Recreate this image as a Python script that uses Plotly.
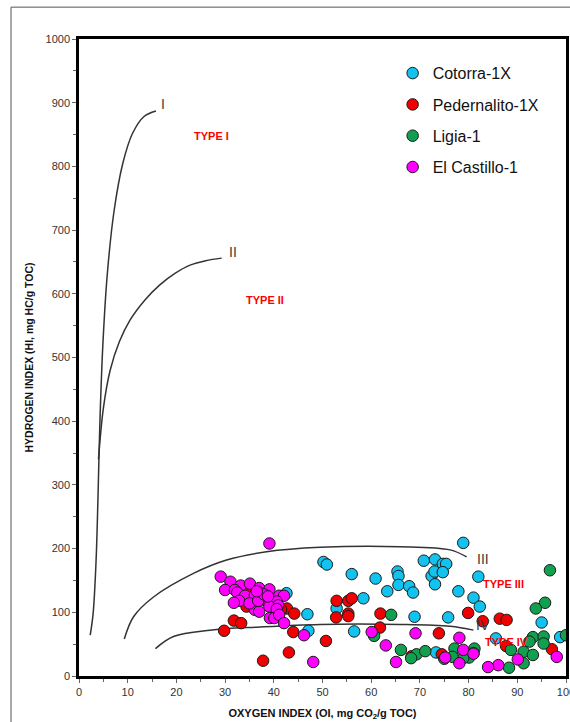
import plotly.graph_objects as go

# ---------------- data ----------------
cotorra_oi = [42.6, 46.9, 47.1, 50.2, 50.9, 56.0, 60.9, 65.4, 65.6, 65.6, 63.3, 67.8, 68.6, 70.8, 73.1,
              72.4, 73.0, 73.1, 58.4, 52.9, 68.9, 56.5, 73.3, 78.9, 74.7, 75.4, 74.7, 82.0, 77.9, 81.0,
              82.3, 75.8, 95.0, 85.6, 98.8]
cotorra_hi = [130, 97, 71, 179, 175, 160, 153, 164, 157, 143, 133, 141, 131, 181, 183,
              157, 164, 144, 122, 106, 93, 70, 37, 209, 176, 176, 163, 156, 133, 123,
              109, 92, 84, 59, 61]

pedern_oi = [35.0, 34.4, 31.8, 33.3, 29.8, 42.7, 44.2, 44.0, 37.8, 43.1, 41.5, 52.9, 55.3, 56.0, 52.8,
             55.3, 55.3, 61.9, 61.8, 50.7, 73.9, 68.3, 79.9, 82.9, 86.4, 87.8, 87.7, 97.1, 74.5]
pedern_hi = [135, 109, 87, 83, 71, 106, 98, 69, 24, 37, 104, 118, 118, 122, 92,
             98, 94, 98, 76, 55, 67, 31, 99, 86, 90, 88, 47, 42, 34]

ligia_oi = [64.1, 60.6, 66.1, 69.3, 68.2, 71.1, 96.7, 95.7, 93.8, 100.0, 93.2, 95.4, 95.4, 92.5, 91.3,
            93.2, 88.7, 91.3, 88.3, 77.1, 81.2, 81.0, 80.1, 78.9, 76.7, 75.0]
ligia_hi = [96, 63, 41, 34, 28, 39, 166, 115, 106, 64, 61, 62, 51, 54, 38,
            33, 41, 20, 13, 43, 43, 36, 29, 28, 30, 27]

castillo_oi = [39.1, 29.1, 31.1, 33.2, 35.1, 37.0, 39.1, 30.0, 32.0, 32.5, 34.1, 36.1, 37.2, 37.0, 37.7,
               41.1, 42.1, 32.9, 31.8, 38.2, 39.1, 40.6, 40.9, 36.1, 37.0, 39.1, 40.6, 39.2, 40.1, 41.1,
               42.1, 46.2, 48.1, 35.0, 36.8, 38.0, 36.5, 38.8, 60.1, 63.0, 69.1, 65.1, 78.1, 78.9, 81.0,
               75.2, 78.1, 90.1, 98.1, 86.1, 84.0]
castillo_hi = [208, 156, 148, 142, 145, 138, 136, 135, 135, 131, 126, 127, 130, 120, 123,
               126, 126, 118, 115, 119, 115, 117, 111, 104, 101, 109, 105, 91, 91, 96,
               83, 64, 22, 114, 118, 128, 133, 125, 69, 48, 67, 22, 60, 41, 35,
               29, 20, 26, 30, 17, 14]

# kerogen type evolution curves
curve_I_oi = [2.3, 2.9, 3.5, 3.9, 4.3, 4.9, 5.8, 7.2, 9.0, 11.0, 13.3, 15.8]
curve_I_hi = [64, 98, 180, 280, 400, 520, 630, 730, 805, 852, 878, 887]
curve_II_oi = [4.0, 5.0, 6.4, 8.3, 10.5, 13.5, 16.6, 19.7, 22.8, 26.0, 29.3]
curve_II_hi = [340, 420, 480, 525, 559, 590, 614, 632, 645, 652, 656]
curve_III_oi = [9.3, 11.2, 15.3, 23.5, 30.3, 38.5, 49.5, 65.9, 76.2, 79.6]
curve_III_hi = [58, 93, 124, 161, 182, 195, 202, 203, 198, 187]
curve_IV_oi = [15.7, 19.4, 26.9, 37.2, 49.5, 65.9, 76.2, 81.0]
curve_IV_hi = [43, 62, 72, 77, 81, 81, 78, 72]

curve_labels = ["I", "II", "III", "IV"]
curve_label_oi = [17.3, 31.6, 82.9, 83.0]
curve_label_hi = [898, 665, 183, 80]

type_labels = ["TYPE I", "TYPE II", "TYPE III", "TYPE IV"]
type_label_oi = [27.2, 38.2, 87.1, 87.7]
type_label_hi = [848, 590, 145, 54]

FONT = "Liberation Sans, Arial, sans-serif"

fig = go.Figure()

for oi, hi in [(curve_I_oi, curve_I_hi), (curve_II_oi, curve_II_hi),
               (curve_III_oi, curve_III_hi), (curve_IV_oi, curve_IV_hi)]:
    fig.add_trace(go.Scatter(x=oi, y=hi, mode="lines",
                             line=dict(color="#333333", width=1.5, shape="spline", smoothing=1.0),
                             showlegend=False, hoverinfo="skip"))

series = [
    ("Cotorra-1X", cotorra_oi, cotorra_hi, "#12C3F0"),
    ("Pedernalito-1X", pedern_oi, pedern_hi, "#F00000"),
    ("Ligia-1", ligia_oi, ligia_hi, "#10A050"),
    ("El Castillo-1", castillo_oi, castillo_hi, "#FF00FF"),
]
for name, oi, hi, col in series:
    fig.add_trace(go.Scatter(x=oi, y=hi, mode="markers", name=name, legendgroup=name,
                             marker=dict(size=11.5, color=col, line=dict(color="#1a1a1a", width=1))))

for t, x, y in zip(curve_labels, curve_label_oi, curve_label_hi):
    fig.add_annotation(x=x, y=y, text=t, showarrow=False, xanchor="center", yanchor="middle",
                       font=dict(family=FONT, size=14, color="#3a3a3a"))
for t, x, y in zip(type_labels, type_label_oi, type_label_hi):
    fig.add_annotation(x=x, y=y, text="<b>" + t + "</b>", showarrow=False, xanchor="center", yanchor="middle",
                       font=dict(family=FONT, size=11, color="#FF0000"))

# outer frame (thin gray)
fig.add_shape(type="line", xref="paper", yref="paper", x0=-0.1396, x1=-0.1396, y0=1.050, y1=-0.08,
              line=dict(color="#555555", width=1))
fig.add_shape(type="line", xref="paper", yref="paper", x0=-0.1396, x1=1.02, y0=1.050, y1=1.050,
              line=dict(color="#555555", width=1))

axis_common = dict(showgrid=False, zeroline=False, showline=True, linecolor="black", linewidth=2.5,
                   mirror=True, ticks="outside", ticklen=4, tickcolor="#666666", tickwidth=1,
                   automargin=False,
                   tickfont=dict(family=FONT, size=11, color="#333333"))

fig.update_xaxes(range=[0, 100], dtick=10, tick0=0, ticklabeloverflow="allow",
                 minor=dict(dtick=5, ticks="outside", ticklen=3, tickcolor="#666666"),
                 title=dict(text="<b>OXYGEN INDEX (OI, mg CO<sub>2</sub>/g TOC)</b>",
                            font=dict(family=FONT, size=11, color="#111111"), standoff=13),
                 **axis_common)
fig.update_yaxes(range=[0, 1000], dtick=100, tick0=0,
                 minor=dict(dtick=50, ticks="outside", ticklen=3, tickcolor="#666666"),
                 title=dict(text="<b>HYDROGEN INDEX (HI, mg HC/g TOC)</b>",
                            font=dict(family=FONT, size=10.5, color="#111111"), standoff=10),
                 **axis_common)

fig.update_layout(
    width=570, height=722,
    margin=dict(l=79, r=4, t=39, b=46, autoexpand=False),
    paper_bgcolor="white", plot_bgcolor="white",
    showlegend=True,
    legend=dict(x=0.644, y=0.973, xanchor="left", yanchor="top", bgcolor="rgba(0,0,0,0)",
                font=dict(family=FONT, size=16, color="#111111"), tracegroupgap=7.5,
                itemwidth=30),
)

fig.write_html("out.html")
